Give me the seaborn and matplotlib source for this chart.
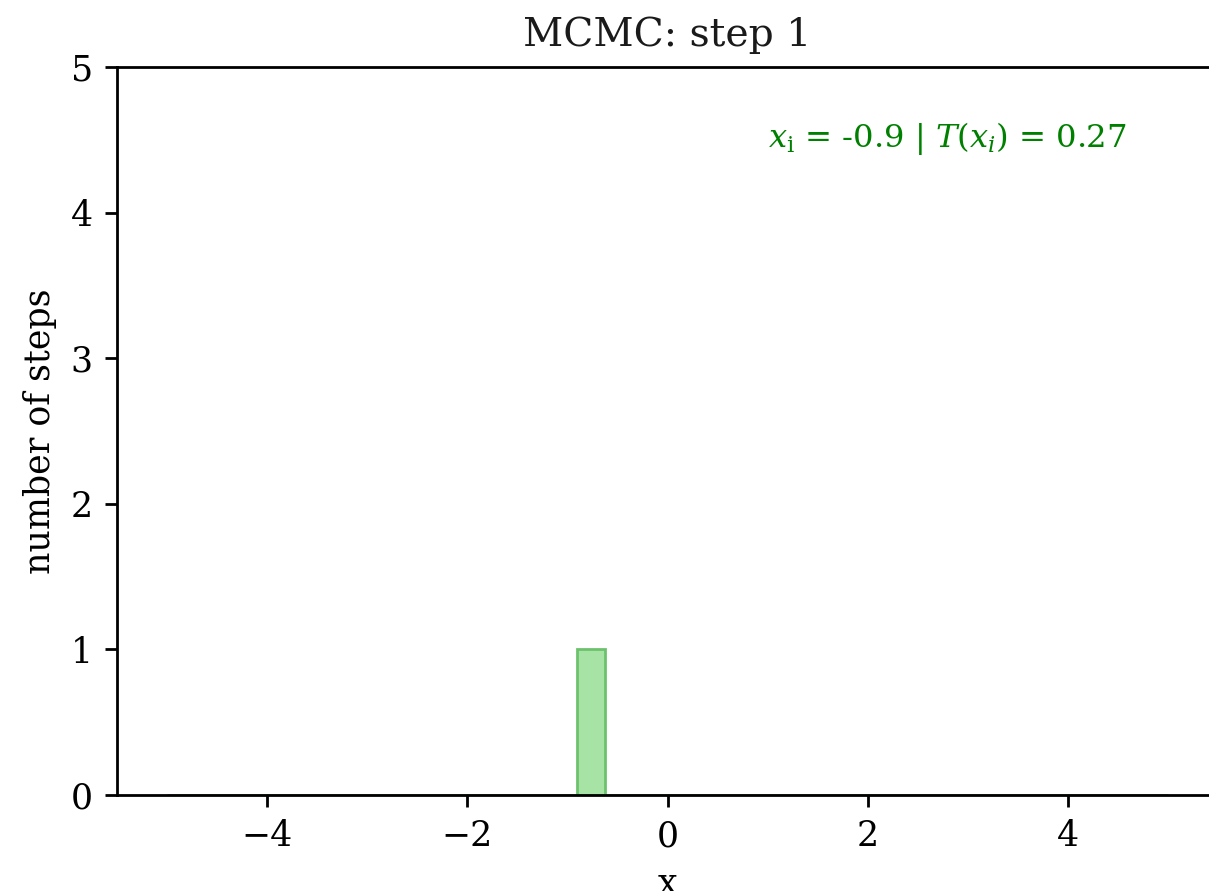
import numpy as np
import matplotlib
matplotlib.use("Agg")
import matplotlib.pyplot as plt
import seaborn as sns

# data
samples = [-0.9]
bin_edges = [-5.0, -0.9, -0.625, 5.0]
x_current = -0.9
t_current = 0.27
step = 1

plt.rcParams['font.family'] = ['DejaVu Serif']
plt.rcParams['mathtext.fontset'] = 'dejavuserif'
plt.rcParams['font.size'] = 10

fig = plt.figure(figsize=(1209 / 250, 891 / 250), dpi=250)
ax = fig.add_axes([117 / 1209, 1 - 795 / 891, (1218 - 117) / 1209, (795 - 67) / 891])

sns.histplot(x=samples, bins=bin_edges, ax=ax, stat='count',
             facecolor='#a6e3a4', edgecolor='#6cc26c', alpha=1.0, linewidth=0.8)

ax.set_xlim(-5.5, 5.5)
ax.set_ylim(0, 5)
ax.set_yticks(range(0, 6))
ax.set_xticks([-4, -2, 0, 2, 4])
ax.set_xlabel('x')
ax.set_ylabel('number of steps')
ax.set_title(f'MCMC: step {step}', fontsize=11.3, color='#1a1a1a')
ax.text(1.0, 4.45, f'$x_\\mathrm{{i}}$ = {x_current} | $T(x_i)$ = {t_current}',
        color='green', fontsize=9.3)

fig.savefig('out.png', dpi=250)
